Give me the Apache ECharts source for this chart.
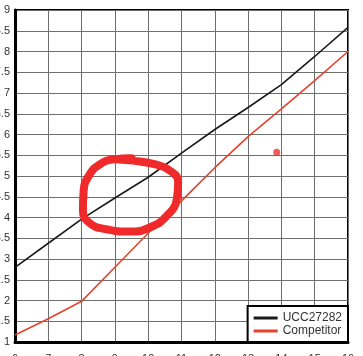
<!DOCTYPE html>
<html>
<head>
<meta charset="utf-8">
<script src="https://cdn.jsdelivr.net/npm/echarts@6/dist/echarts.min.js"></script>
<style>
html,body{margin:0;padding:0;background:#fff;}
#c{width:363px;height:356px;}
</style>
</head>
<body>
<div id="c"></div>
<script>
// Data
var xValues = [6, 7, 8, 9, 10, 11, 12, 13, 14, 15, 16];
var ucc27282 = [2.8, 3.38, 3.96, 4.47, 4.97, 5.55, 6.12, 6.65, 7.2, 7.88, 8.58];
var competitor = [1.17, 1.56, 1.98, 2.8, 3.62, 4.4, 5.2, 5.95, 6.62, 7.3, 8.0];
var extraPoint = [[13.86, 5.57]];
// hand-drawn annotation loop (data coordinates)
var loopX = [9.50, 8.95, 8.55, 8.22, 8.06, 8.04, 8.22, 8.72, 9.45, 10.05, 10.56, 10.86, 10.90, 10.65, 10.15, 9.55, 9.10];
var loopY = [5.43, 5.40, 5.28, 5.01, 4.63, 4.18, 3.88, 3.72, 3.66, 3.76, 4.04, 4.45, 4.85, 5.13, 5.29, 5.37, 5.40];
var seriesNames = ['UCC27282', 'Competitor'];

function pairs(xs, ys) { return xs.map(function (x, i) { return [x, ys[i]]; }); }

var chart = echarts.init(document.getElementById('c'), null, {renderer: 'canvas'});
var font = 'Liberation Sans, Arial, sans-serif';
chart.setOption({
  animation: false,
  backgroundColor: '#fff',
  grid: {left: 15, right: 15, top: 10, bottom: 14, containLabel: false, outerBoundsMode: 'none',
    show: true, borderColor: '#000', borderWidth: 2, backgroundColor: 'transparent'},
  xAxis: {
    type: 'value', min: 6, max: 16, interval: 1,
    axisLine: {show: true, lineStyle: {color: '#000', width: 3}},
    axisTick: {show: false},
    splitLine: {show: true, lineStyle: {color: '#6e6e6e', width: 1}},
    axisLabel: {color: '#333', fontSize: 11, fontFamily: font, margin: 11}
  },
  yAxis: {
    type: 'value', min: 1, max: 9, interval: 0.5,
    axisLine: {show: true, lineStyle: {color: '#000', width: 3}},
    axisTick: {show: false},
    splitLine: {show: true, lineStyle: {color: '#6e6e6e', width: 1}},
    axisLabel: {color: '#333', fontSize: 11, fontFamily: font, margin: 5}
  },
  legend: {
    data: seriesNames,
    orient: 'vertical',
    right: 15, bottom: 14,
    backgroundColor: '#fff',
    borderColor: '#000', borderWidth: 2, borderRadius: 0,
    padding: [6, 6, 5, 6],
    itemWidth: 24, itemHeight: 3, itemGap: 1,
    icon: 'rect',
    textStyle: {color: '#333', fontSize: 12, fontFamily: font}
  },
  series: [
    {
      name: seriesNames[0], type: 'line', data: pairs(xValues, ucc27282),
      symbol: 'none', color: '#1a1a1a', lineStyle: {color: '#1a1a1a', width: 1.6}, z: 3
    },
    {
      name: seriesNames[1], type: 'line', data: pairs(xValues, competitor),
      symbol: 'none', color: '#e2442a', lineStyle: {color: '#e2442a', width: 1.6}, z: 3
    },
    {
      name: 'dot', type: 'scatter', data: extraPoint, symbolSize: 7,
      itemStyle: {color: '#e83434'}, z: 4
    },
    {
      name: 'loop', type: 'line', data: pairs(loopX, loopY), smooth: 0.5, smoothConstraint: false,
      symbol: 'none', lineStyle: {color: '#f02a2a', width: 8, cap: 'round', join: 'round'}, z: 5
    }
  ]
});
</script>
</body>
</html>
